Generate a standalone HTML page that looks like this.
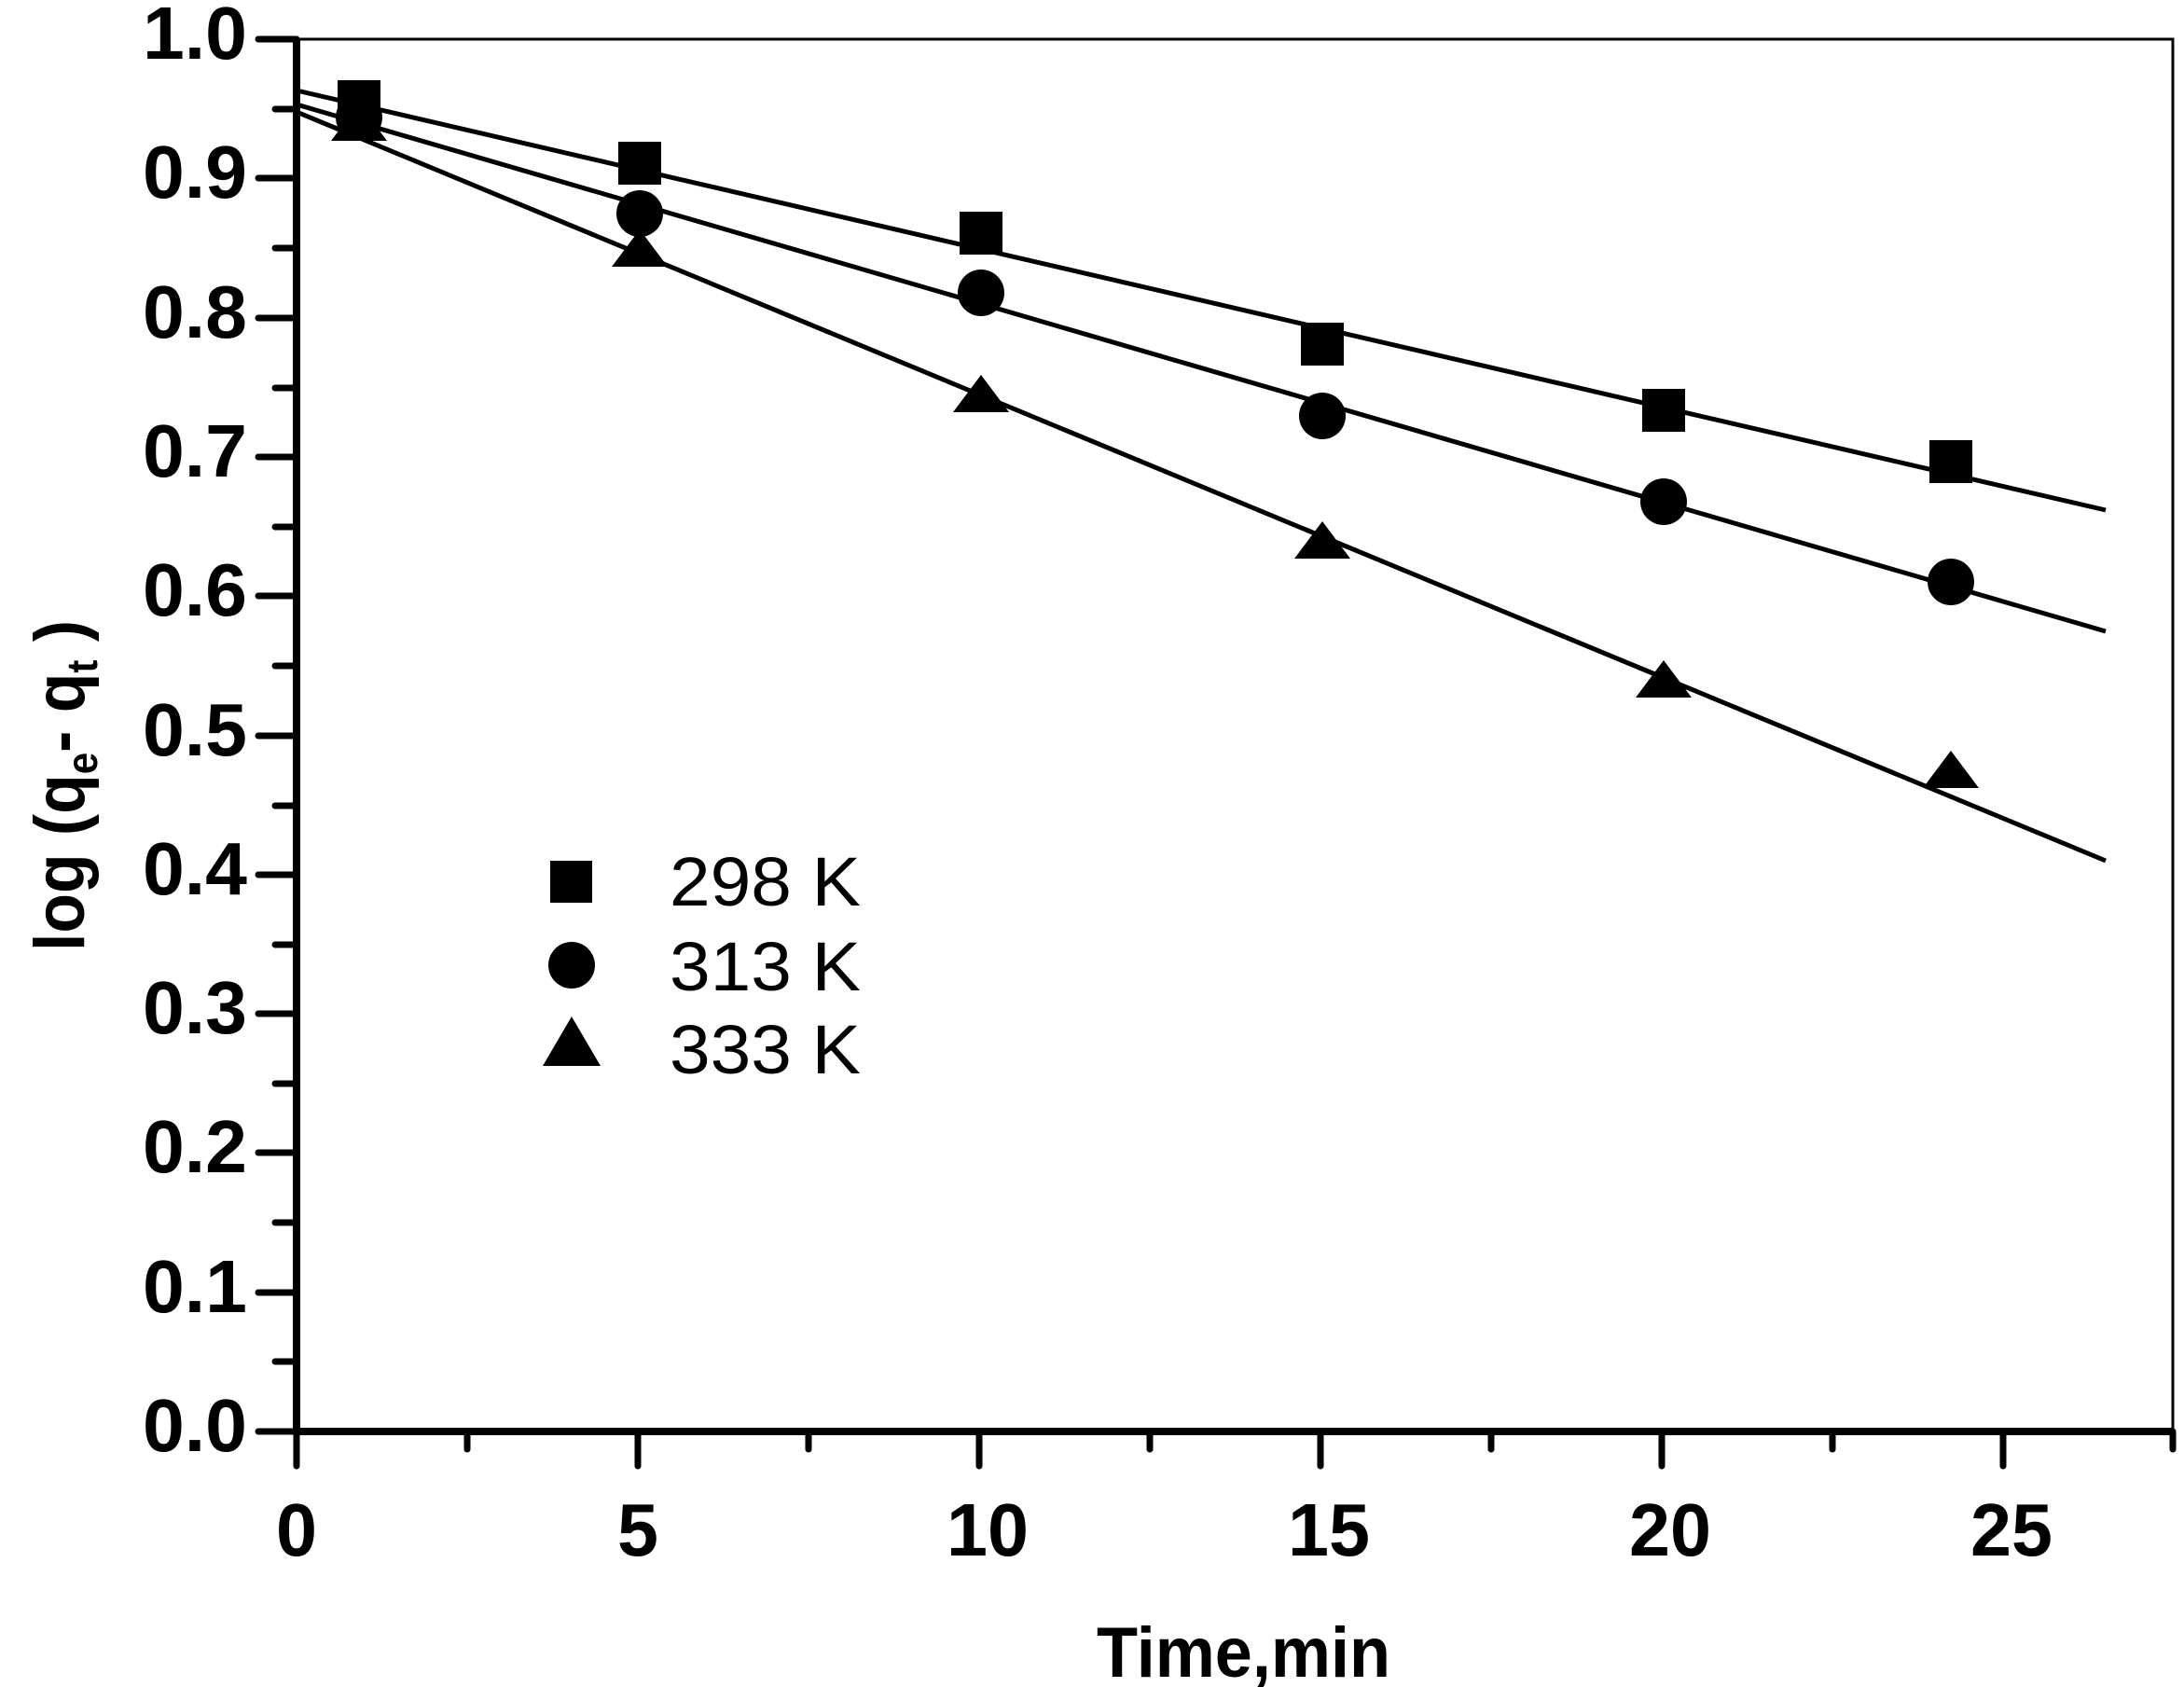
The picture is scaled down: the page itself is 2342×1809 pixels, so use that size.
<!DOCTYPE html>
<html><head><style>body{margin:0;background:#fff}svg{display:block}</style></head><body>
<svg width="2342" height="1809" viewBox="0 0 2342 1809" xmlns="http://www.w3.org/2000/svg" font-family="Liberation Sans, Arial, sans-serif">
<rect width="2342" height="1809" fill="#fff"/>
<rect x="318" y="42" width="2012" height="1493" fill="none" stroke="#000" stroke-width="3"/>
<line x1="318" y1="42" x2="318" y2="1535" stroke="#000" stroke-width="8"/>
<line x1="318" y1="1535" x2="2330" y2="1535" stroke="#000" stroke-width="8"/>
<g stroke="#000" stroke-width="7" stroke-linecap="round">
<line x1="277" y1="42" x2="318" y2="42"/><line x1="295" y1="117" x2="318" y2="117"/>
<line x1="277" y1="191" x2="318" y2="191"/><line x1="295" y1="266" x2="318" y2="266"/>
<line x1="277" y1="341" x2="318" y2="341"/><line x1="295" y1="416" x2="318" y2="416"/>
<line x1="277" y1="490" x2="318" y2="490"/><line x1="295" y1="565" x2="318" y2="565"/>
<line x1="277" y1="639" x2="318" y2="639"/><line x1="295" y1="714" x2="318" y2="714"/>
<line x1="277" y1="789" x2="318" y2="789"/><line x1="295" y1="864" x2="318" y2="864"/>
<line x1="277" y1="938" x2="318" y2="938"/><line x1="295" y1="1013" x2="318" y2="1013"/>
<line x1="277" y1="1087" x2="318" y2="1087"/><line x1="295" y1="1162" x2="318" y2="1162"/>
<line x1="277" y1="1236" x2="318" y2="1236"/><line x1="295" y1="1311" x2="318" y2="1311"/>
<line x1="277" y1="1386" x2="318" y2="1386"/><line x1="295" y1="1460" x2="318" y2="1460"/>
<line x1="277" y1="1535" x2="318" y2="1535"/>
<line x1="318" y1="1535" x2="318" y2="1572"/><line x1="501" y1="1535" x2="501" y2="1554"/>
<line x1="684" y1="1535" x2="684" y2="1572"/><line x1="867" y1="1535" x2="867" y2="1554"/>
<line x1="1050" y1="1535" x2="1050" y2="1572"/><line x1="1233" y1="1535" x2="1233" y2="1554"/>
<line x1="1416" y1="1535" x2="1416" y2="1572"/><line x1="1599" y1="1535" x2="1599" y2="1554"/>
<line x1="1782" y1="1535" x2="1782" y2="1572"/><line x1="1965" y1="1535" x2="1965" y2="1554"/>
<line x1="2148" y1="1535" x2="2148" y2="1572"/><line x1="2330" y1="1535" x2="2330" y2="1554"/>
</g>
<g font-size="80" font-weight="bold">
<text x="153" y="63" textLength="112" lengthAdjust="spacingAndGlyphs">1.0</text>
<text x="153" y="212" textLength="112" lengthAdjust="spacingAndGlyphs">0.9</text>
<text x="153" y="362" textLength="112" lengthAdjust="spacingAndGlyphs">0.8</text>
<text x="153" y="511" textLength="112" lengthAdjust="spacingAndGlyphs">0.7</text>
<text x="153" y="660" textLength="112" lengthAdjust="spacingAndGlyphs">0.6</text>
<text x="153" y="810" textLength="112" lengthAdjust="spacingAndGlyphs">0.5</text>
<text x="153" y="959" textLength="112" lengthAdjust="spacingAndGlyphs">0.4</text>
<text x="153" y="1108" textLength="112" lengthAdjust="spacingAndGlyphs">0.3</text>
<text x="153" y="1257" textLength="112" lengthAdjust="spacingAndGlyphs">0.2</text>
<text x="153" y="1407" textLength="112" lengthAdjust="spacingAndGlyphs">0.1</text>
<text x="153" y="1556" textLength="112" lengthAdjust="spacingAndGlyphs">0.0</text>
</g>
<g font-size="80" font-weight="bold">
<text x="296" y="1668" textLength="44" lengthAdjust="spacingAndGlyphs">0</text>
<text x="662" y="1668" textLength="44" lengthAdjust="spacingAndGlyphs">5</text>
<text x="1015" y="1668" textLength="88" lengthAdjust="spacingAndGlyphs">10</text>
<text x="1381" y="1668" textLength="88" lengthAdjust="spacingAndGlyphs">15</text>
<text x="1747" y="1668" textLength="88" lengthAdjust="spacingAndGlyphs">20</text>
<text x="2113" y="1668" textLength="88" lengthAdjust="spacingAndGlyphs">25</text>
</g>
<text x="1176" y="1798" font-size="76" font-weight="bold" textLength="315" lengthAdjust="spacingAndGlyphs">Time,min</text>
<text transform="translate(90,1020) rotate(-90)" font-size="76" font-weight="bold" textLength="355" lengthAdjust="spacingAndGlyphs">log (q<tspan font-size="46" dy="14">e</tspan><tspan dy="-14">- q</tspan><tspan font-size="46" dy="14">t</tspan><tspan dy="-14"> )</tspan></text>
<g stroke="#000" stroke-width="5">
<line x1="318" y1="97" x2="2258" y2="547"/>
<line x1="318" y1="112" x2="2258" y2="677"/>
<line x1="318" y1="120" x2="2258" y2="923"/>
</g>
<g fill="#000">
<rect x="362" y="86" width="46" height="46"/><rect x="663" y="152" width="46" height="46"/>
<rect x="1029" y="227" width="46" height="46"/><rect x="1395" y="346" width="46" height="46"/>
<rect x="1761" y="417" width="46" height="46"/><rect x="2069" y="472" width="46" height="46"/>
<circle cx="385" cy="126" r="25"/><circle cx="686" cy="229" r="25"/><circle cx="1052" cy="314" r="25"/>
<circle cx="1418" cy="446" r="25"/><circle cx="1784" cy="538" r="25"/><circle cx="2092" cy="624" r="25"/>
<polygon points="385,111 415,151 355,151"/><polygon points="686,246 716,286 656,286"/>
<polygon points="1052,402 1082,442 1022,442"/><polygon points="1418,559 1448,599 1388,599"/>
<polygon points="1784,708 1814,748 1754,748"/><polygon points="2092,805 2122,845 2062,845"/>
<rect x="590" y="923" width="45" height="45"/>
<circle cx="613" cy="1035" r="25"/>
<polygon points="613,1090 644,1143 582,1143"/>
</g>
<g font-size="74">
<text x="718" y="971" textLength="205" lengthAdjust="spacingAndGlyphs">298 K</text>
<text x="718" y="1062" textLength="205" lengthAdjust="spacingAndGlyphs">313 K</text>
<text x="718" y="1151" textLength="205" lengthAdjust="spacingAndGlyphs">333 K</text>
</g>
</svg>
</body></html>
